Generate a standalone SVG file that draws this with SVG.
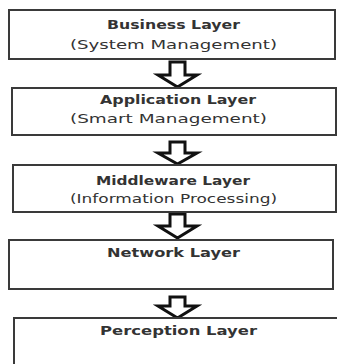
<svg xmlns="http://www.w3.org/2000/svg" width="337" height="364" viewBox="0 0 337 364">
<style>
.box{fill:#fff;stroke:#3a3a3a;stroke-width:2}
.arr{fill:#fff;stroke:#111;stroke-width:3;stroke-linejoin:miter}
.t{font-family:"DejaVu Sans","Liberation Sans",sans-serif;font-size:13px;fill:#333;text-anchor:middle}
.b{font-weight:bold}
</style>
<rect width="337" height="364" fill="#fff"/>
<g id="connectors">
<path class="arr" d="M170,62 H185 V75 H197 L177.5,87 L158,75 H170 Z"/>
<path class="arr" d="M170,142 H185 V153 H197 L177.5,164 L158,153 H170 Z"/>
<path class="arr" d="M170,214 H185 V226 H197 L177.5,238 L158,226 H170 Z"/>
<path class="arr" d="M170,297 H185 V306 H197 L177.5,318 L158,306 H170 Z"/>
</g>
<g id="business">
<rect class="box" x="9" y="10" width="326" height="49"/>
<text class="t b" x="173.5" y="29" textLength="133" lengthAdjust="spacingAndGlyphs">Business Layer</text>
<text class="t" x="173.5" y="49" textLength="207" lengthAdjust="spacingAndGlyphs">(System Management)</text>
</g>
<g id="application">
<rect class="box" x="12" y="88" width="324" height="47"/>
<text class="t b" x="178" y="104" textLength="156" lengthAdjust="spacingAndGlyphs">Application Layer</text>
<text class="t" x="168.5" y="123" textLength="197" lengthAdjust="spacingAndGlyphs">(Smart Management)</text>
</g>
<g id="middleware">
<rect class="box" x="13" y="165" width="323" height="47"/>
<text class="t b" x="173" y="185" textLength="154" lengthAdjust="spacingAndGlyphs">Middleware Layer</text>
<text class="t" x="173.5" y="203" textLength="207" lengthAdjust="spacingAndGlyphs">(Information Processing)</text>
</g>
<g id="network">
<rect class="box" x="9" y="240" width="324" height="49"/>
<text class="t b" x="173.5" y="257" textLength="133" lengthAdjust="spacingAndGlyphs">Network Layer</text>
</g>
<g id="perception">
<rect class="box" x="14" y="318" width="325" height="52"/>
<text class="t b" x="178.5" y="335" textLength="157" lengthAdjust="spacingAndGlyphs">Perception Layer</text>
</g>
</svg>
